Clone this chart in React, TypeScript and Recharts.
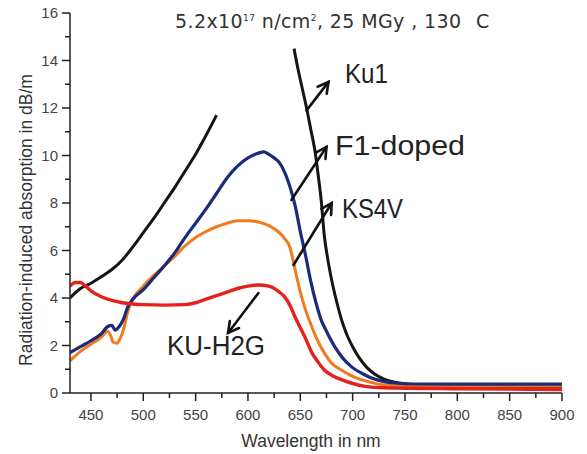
import { LineChart, Line, XAxis, YAxis, ReferenceLine } from 'recharts';

// wavelength (nm) / absorption (dB/m)
const ku1LeftNm = [430, 440, 450, 460, 470, 480, 490, 500, 510, 520, 530, 540, 550, 560, 570];
const ku1LeftDb = [4.0, 4.4, 4.62, 4.9, 5.2, 5.6, 6.15, 6.75, 7.35, 8.0, 8.65, 9.35, 10.05, 10.85, 11.7];

const ku1RightNm = [644, 648, 652, 656, 660, 664, 667, 670, 673, 676, 680, 685, 690, 695, 700, 706, 713, 721, 730, 740, 760, 800, 850, 900];
const ku1RightDb = [14.5, 13.6, 12.8, 12.0, 11.1, 10.2, 9.2, 8.1, 6.6, 5.7, 4.75, 3.8, 3.0, 2.4, 1.95, 1.5, 1.1, 0.8, 0.58, 0.45, 0.35, 0.3, 0.27, 0.25];

const f1Nm = [430, 440, 450, 460, 466, 470, 473, 477, 481, 485, 490, 500, 510, 520, 530, 540, 550, 560, 570, 580, 590, 600, 610, 615, 620, 625, 630, 635, 640, 645, 650, 655, 660, 665, 670, 675, 683, 690, 699, 710, 718, 730, 740, 760, 800, 900];
const f1Db = [1.7, 1.95, 2.2, 2.5, 2.8, 2.85, 2.65, 2.8, 3.1, 3.6, 3.95, 4.35, 4.85, 5.35, 5.9, 6.55, 7.15, 7.75, 8.4, 9.05, 9.55, 9.9, 10.1, 10.15, 10.05, 9.9, 9.7, 9.3, 8.7, 7.9, 6.8, 5.8, 4.7, 3.8, 3.07, 2.6, 1.94, 1.5, 1.1, 0.8, 0.63, 0.48, 0.42, 0.38, 0.37, 0.37];

const ks4vNm = [430, 440, 450, 460, 466, 469, 471, 475, 478, 481, 485, 490, 500, 510, 520, 530, 540, 550, 560, 570, 580, 590, 600, 610, 620, 630, 635, 640, 645, 650, 655, 660, 665, 673, 680, 690, 700, 709, 720, 730, 750, 900];
const ks4vDb = [1.35, 1.75, 2.05, 2.35, 2.6, 2.4, 2.15, 2.1, 2.3, 2.65, 3.4, 3.95, 4.5, 4.95, 5.35, 5.75, 6.2, 6.55, 6.8, 7.0, 7.15, 7.25, 7.25, 7.2, 7.05, 6.75, 6.5, 6.15, 5.2, 4.25, 3.5, 2.9, 2.35, 1.68, 1.25, 0.95, 0.7, 0.55, 0.42, 0.34, 0.3, 0.3];

const kuh2gNm = [430, 435, 440, 445, 450, 460, 470, 480, 490, 500, 520, 540, 550, 560, 570, 580, 590, 600, 610, 620, 630, 635, 640, 645, 650, 655, 661, 667, 673, 680, 690, 700, 712, 730, 800, 900];
const kuh2gDb = [4.5, 4.65, 4.65, 4.5, 4.3, 4.05, 3.9, 3.8, 3.75, 3.72, 3.7, 3.72, 3.8, 3.95, 4.1, 4.25, 4.4, 4.5, 4.55, 4.5, 4.25, 4.05, 3.7, 3.2, 2.75, 2.3, 1.7, 1.3, 0.97, 0.75, 0.55, 0.4, 0.28, 0.22, 0.18, 0.15];

const xTicks = [450, 475, 500, 525, 550, 575, 600, 625, 650, 675, 700, 725, 750, 775, 800, 825, 850, 875, 900];
const yTicks = [0, 1, 2, 3, 4, 5, 6, 7, 8, 9, 10, 11, 12, 13, 14, 15, 16];

// arrows: [tailNm, tailDb, headNm, headDb]
const arrows = [
  [656, 11.9, 677, 13.1],
  [641.5, 8.13, 675, 10.36],
  [643.5, 5.39, 680, 8.0],
  [610, 4.21, 581, 2.53],
];

const toRows = (nm: number[], db: number[]) => nm.map((n, i) => ({ nm: n, v: db[i] }));

const AXIS = '#222';
const TICK_FONT = '"Liberation Sans", Arial, sans-serif';

const XTick = ({ x, y, payload }: any) => {
  const major = payload.value % 50 === 0;
  return (
    <g>
      <line x1={x} x2={x} y1={y} y2={y + (major ? 8 : 5)} stroke={AXIS} strokeWidth={1.5} />
      {major && (
        <text x={x} y={y + 27} textAnchor="middle" fontSize={15} fill="#444" fontFamily={TICK_FONT}>
          {payload.value}
        </text>
      )}
    </g>
  );
};

const YTick = ({ x, y, payload }: any) => {
  const major = payload.value % 2 === 0;
  return (
    <g>
      <line x1={x - (major ? 8 : 5)} x2={x} y1={y} y2={y} stroke={AXIS} strokeWidth={1.5} />
      {major && (
        <text x={x - 12} y={y + 5} textAnchor="end" fontSize={15} fill="#444" fontFamily={TICK_FONT}>
          {payload.value}
        </text>
      )}
    </g>
  );
};

const Arrow = (props: any) => {
  const { x1, y1, x2, y2 } = props;
  const a = Math.atan2(y2 - y1, x2 - x1);
  const len = 12;
  const s = 0.5;
  const p1 = `${x2 - len * Math.cos(a - s)},${y2 - len * Math.sin(a - s)}`;
  const p2 = `${x2 - len * Math.cos(a + s)},${y2 - len * Math.sin(a + s)}`;
  return (
    <g stroke="#111" strokeWidth={2.6} fill="none" strokeLinecap="round">
      <line x1={x1} y1={y1} x2={x2} y2={y2} />
      <polyline points={`${p1} ${x2},${y2} ${p2}`} />
    </g>
  );
};

const LABEL_FONT = '"Liberation Sans", Arial, sans-serif';
const TITLE_FONT = '"DejaVu Sans", sans-serif';

export default function App() {
  return (
    <div style={{ position: 'absolute', left: 0, top: 0, width: 587, height: 454, background: '#fff' }}>
      <LineChart width={587} height={454} margin={{ top: 13, right: 25, bottom: 0, left: 0 }}>
        <XAxis
          type="number"
          dataKey="nm"
          domain={[430, 900]}
          allowDataOverflow
          ticks={xTicks}
          interval={0}
          tick={<XTick />}
          tickSize={0}
          tickMargin={0}
          tickLine={false}
          height={61}
          axisLine={{ stroke: AXIS, strokeWidth: 1.5 }}
        />
        <YAxis
          type="number"
          domain={[0, 16]}
          allowDataOverflow
          ticks={yTicks}
          interval={0}
          tick={<YTick />}
          tickSize={0}
          tickMargin={0}
          tickLine={false}
          width={70}
          axisLine={{ stroke: AXIS, strokeWidth: 1.5 }}
        />
        <Line data={toRows(ku1LeftNm, ku1LeftDb)} dataKey="v" type="monotone" stroke="#151515" strokeWidth={3} dot={false} isAnimationActive={false} />
        <Line data={toRows(ku1RightNm, ku1RightDb)} dataKey="v" type="monotone" stroke="#151515" strokeWidth={3} dot={false} isAnimationActive={false} />
        <Line data={toRows(ks4vNm, ks4vDb)} dataKey="v" type="monotone" stroke="#f07a1e" strokeWidth={3} dot={false} isAnimationActive={false} />
        <Line data={toRows(f1Nm, f1Db)} dataKey="v" type="monotone" stroke="#1c2a7a" strokeWidth={3.2} dot={false} isAnimationActive={false} />
        <Line data={toRows(kuh2gNm, kuh2gDb)} dataKey="v" type="monotone" stroke="#e3221c" strokeWidth={3.4} dot={false} isAnimationActive={false} />
        {arrows.map((a, i) => (
          <ReferenceLine
            key={i}
            segment={[{ x: a[0], y: a[1] }, { x: a[2], y: a[3] }]}
            shape={Arrow}
          />
        ))}
      </LineChart>
      <svg width={587} height={454} style={{ position: 'absolute', left: 0, top: 0, pointerEvents: 'none' }}>
        <text x={175} y={28} fontSize={19} fill="#333" fontFamily={TITLE_FONT} letterSpacing={0.4}>
          5.2x10<tspan dy={-7} fontSize={9}>17</tspan>
          <tspan dy={7}> n/cm</tspan>
          <tspan dy={-7} fontSize={9}>2</tspan>
          <tspan dy={7}>, 25 MGy , 130 </tspan>
          <tspan dx={8}>C</tspan>
        </text>
        <text x={345} y={83} fontSize={27} fill="#222" fontFamily={LABEL_FONT} textLength={43} lengthAdjust="spacingAndGlyphs">Ku1</text>
        <text x={335} y={155} fontSize={27} fill="#222" fontFamily={LABEL_FONT} textLength={130} lengthAdjust="spacingAndGlyphs">F1-doped</text>
        <text x={342} y={218} fontSize={27} fill="#222" fontFamily={LABEL_FONT} textLength={61} lengthAdjust="spacingAndGlyphs">KS4V</text>
        <text x={167} y={355} fontSize={27} fill="#222" fontFamily={LABEL_FONT} textLength={98} lengthAdjust="spacingAndGlyphs">KU-H2G</text>
        <text
          x={0}
          y={0}
          transform="translate(32,220) rotate(-90)"
          textAnchor="middle"
          fontSize={17.5}
          fill="#333"
          fontFamily={LABEL_FONT}
        >
          Radiation-induced absorption in dB/m
        </text>
        <text x={311} y={447} textAnchor="middle" fontSize={17.5} fill="#333" fontFamily={LABEL_FONT}>
          Wavelength in nm
        </text>
      </svg>
    </div>
  );
}
